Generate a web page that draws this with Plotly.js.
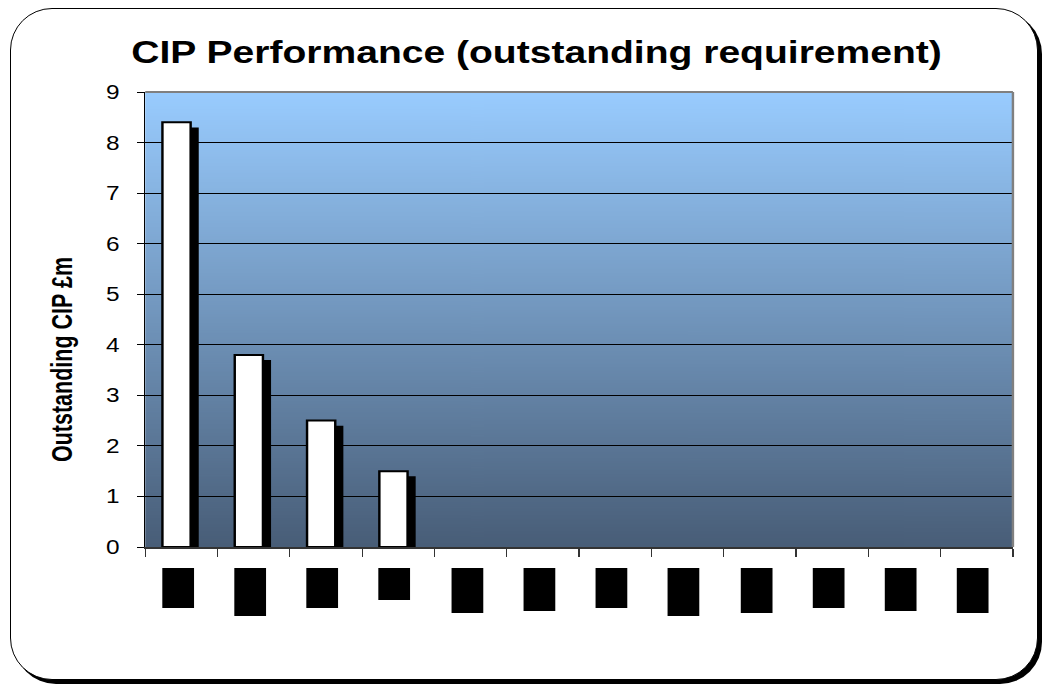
<!DOCTYPE html>
<html>
<head>
<meta charset="utf-8">
<script src="https://cdn.plot.ly/plotly-3.0.1.min.js"></script>
<style>
  html, body { margin: 0; padding: 0; background: #ffffff; overflow: hidden; }
  #frame {
    position: absolute; left: 10px; top: 8px; width: 1026px; height: 670px;
    border: 1px solid #000; border-radius: 42px; box-shadow: 4px 4px 0 #000; background: #fff;
  }
  #chart { position: absolute; left: 0; top: 0; width: 862px; height: 691px;
           transform: scaleX(1.2204); transform-origin: 0 0; }
</style>
</head>
<body>
<div id="frame"></div>
<div id="chart"></div>
<script>
// ---- data ----
const categories = ["C1","C2","C3","C4","C5","C6","C7","C8","C9","C10","C11","C12"];
const outstandingCIP = [8.4, 3.8, 2.5, 1.5, null, null, null, null, null, null, null, null];
const yTickValues = [0,1,2,3,4,5,6,7,8,9];

// ---- styles (redacted label boxes) ----
const labelBoxHeights = [40, 48, 40, 32, 45, 43, 40, 48, 45, 40, 43, 45];

// gradient background image
const cv = document.createElement('canvas');
cv.width = 4; cv.height = 512;
const ctx = cv.getContext('2d');
const g = ctx.createLinearGradient(0, 0, 0, 512);
g.addColorStop(0, '#99CCFF');
g.addColorStop(1, '#485D77');
ctx.fillStyle = g; ctx.fillRect(0, 0, 4, 512);
const gradURL = cv.toDataURL('image/png');

const shadowDrop = 0.1;
const shadowVals = outstandingCIP.map(v => v == null ? null : v - shadowDrop);

const shadow = {
  type: 'bar', x: categories, y: shadowVals, width: 0.39, offset: -0.15,
  marker: { color: '#000000', line: { width: 0 } }, hoverinfo: 'skip', showlegend: false
};
const bars = {
  type: 'bar', x: categories, y: outstandingCIP, width: 0.39, offset: -0.262,
  marker: { color: '#FFFFFF', line: { color: '#000000', width: 2 } }, showlegend: false
};

const annotations = categories.map((c, i) => ({
  xref: 'x', yref: 'paper', x: c, y: 0, xanchor: 'center', yanchor: 'top',
  xshift: -2.9, yshift: -21, text: ' ', showarrow: false,
  width: 26.2, height: labelBoxHeights[i], bgcolor: '#000000', borderpad: 0, borderwidth: 0
}));

const layout = {
  width: 862, height: 691,
  margin: { l: 119, r: 32, t: 92, b: 144 },
  paper_bgcolor: 'rgba(0,0,0,0)', plot_bgcolor: 'rgba(0,0,0,0)',
  barmode: 'overlay', showlegend: false,
  font: { family: 'Liberation Sans, Arial, sans-serif', color: '#000' },
  title: { text: '<b>CIP Performance (outstanding requirement)</b>', font: { size: 32, color: '#000' },
           xref: 'paper', x: 0.451, xanchor: 'center', yref: 'container', y: 0.925, yanchor: 'middle' },
  xaxis: {
    type: 'category', showticklabels: false, ticks: 'outside', ticklen: 8, tickcolor: '#333',
    tickson: 'boundaries', showgrid: false, showline: true, linecolor: '#333', linewidth: 2,
    zeroline: false, range: [-0.5, 11.5]
  },
  yaxis: {
    range: [0, 9], tickvals: yTickValues, ticks: 'outside', ticklen: 6, tickcolor: '#000',
    ticklabelstandoff: 10,
    showline: true, linecolor: '#000', linewidth: 1, showgrid: true, gridcolor: '#000', gridwidth: 1,
    zeroline: false, tickfont: { size: 20 },
    title: { text: '<b>Outstanding CIP £m</b>', font: { size: 24 }, standoff: 20 }
  },
  images: [{ source: gradURL, xref: 'paper', yref: 'paper', x: 0, y: 1, sizex: 1, sizey: 1,
             sizing: 'stretch', layer: 'below', xanchor: 'left', yanchor: 'top' }],
  shapes: [
    { type: 'line', xref: 'paper', yref: 'paper', x0: 0, x1: 1, y0: 1, y1: 1, line: { color: '#808080', width: 2 } },
    { type: 'line', xref: 'paper', yref: 'paper', x0: 1, x1: 1, y0: 0, y1: 1, line: { color: '#808080', width: 2 } }
  ],
  annotations: annotations
};

Plotly.newPlot('chart', [shadow, bars], layout, { displayModeBar: false, staticPlot: true }).then(gd => {
  const t = gd.querySelector('.ytitle');
  if (t) {
    t.setAttribute('textLength', '205');
    t.setAttribute('lengthAdjust', 'spacingAndGlyphs');
    const tr = t.getAttribute('transform') || '';
    t.setAttribute('transform', 'translate(0,40) ' + tr);
  }
});
</script>
</body>
</html>
